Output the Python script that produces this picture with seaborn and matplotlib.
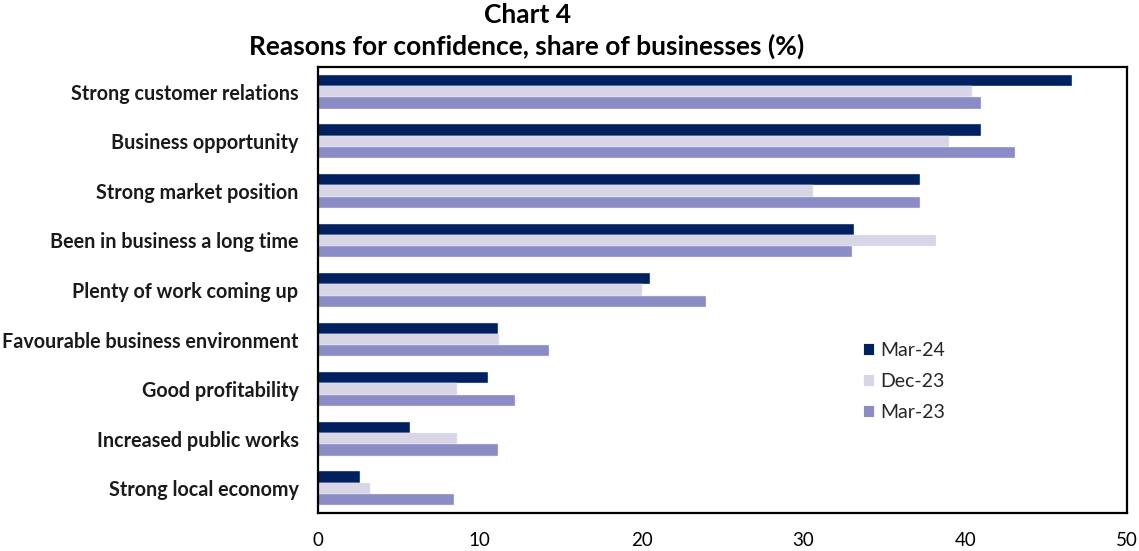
import numpy as np
import pandas as pd
import matplotlib
matplotlib.use("Agg")
import matplotlib.pyplot as plt
import seaborn as sns
from matplotlib.patches import Patch

# chart data
CATEGORIES = [
    "Strong customer relations",
    "Business opportunity",
    "Strong market position",
    "Been in business a long time",
    "Plenty of work coming up",
    "Favourable business environment",
    "Good profitability",
    "Increased public works",
    "Strong local economy",
]
PERIODS = ["Mar-24", "Dec-23", "Mar-23"]
MAR_24 = [46.6, 41.0, 37.2, 33.1, 20.5, 11.1, 10.5, 5.7, 2.6]
DEC_23 = [40.4, 39.0, 30.6, 38.2, 20.0, 11.2, 8.6, 8.6, 3.2]
MAR_23 = [41.0, 43.1, 37.2, 33.0, 24.0, 14.3, 12.2, 11.1, 8.4]
COLORS = ["#002060", "#D8D5E7", "#8B8BC6"]
XTICKS = [0, 10, 20, 30, 40, 50]

df = pd.DataFrame({"Reason": CATEGORIES, "Mar-24": MAR_24, "Dec-23": DEC_23, "Mar-23": MAR_23})
long = df.melt(id_vars="Reason", value_vars=PERIODS, var_name="Period", value_name="Share")

sns.set_theme(style="white")
plt.rcParams["font.family"] = ["Lato", "DejaVu Sans"]

fig = plt.figure(figsize=(11.39, 5.51), dpi=100)
ax = fig.add_axes([318 / 1139, 1 - 513 / 551, (1127 - 318) / 1139, (513 - 67) / 551])

sns.barplot(data=long, y="Reason", x="Share", hue="Period", order=CATEGORIES,
            hue_order=PERIODS, palette=COLORS, saturation=1, orient="h", width=0.68,
            edgecolor="#eeeef6", linewidth=0.3, ax=ax, legend=False)

ax.set_xlim(0, 50)
ax.set_ylim(len(CATEGORIES) - 0.5, -0.5)
ax.set_xticks(XTICKS)
ax.set_xticklabels([str(t) for t in XTICKS], fontsize=13.5)
ax.set_xlabel("")
ax.set_ylabel("")
ax.set_yticks(range(len(CATEGORIES)))
ax.set_yticklabels(CATEGORIES, fontsize=14.2, fontweight="bold", color="#1a1a1a")
ax.set_yticks(np.arange(-0.5, len(CATEGORIES)), minor=True)
ax.tick_params(axis="y", which="major", length=0, pad=14)
ax.tick_params(axis="y", which="minor", length=5, width=1.4, direction="out", color="black")
ax.tick_params(axis="x", which="major", length=5, width=1.4, direction="out", color="black",
               pad=9, labelcolor="black")

for s in ax.spines.values():
    s.set_visible(True)
    s.set_color("black")
    s.set_linewidth(1.6)

handles = [Patch(facecolor=c, edgecolor="white", linewidth=0.6) for c in COLORS]
fig.legend(handles, PERIODS, loc="upper left", bbox_to_anchor=(855 / 1139, 1 - 334 / 551),
           frameon=False, fontsize=14, handlelength=0.6, handleheight=0.6,
           handletextpad=0.3, labelspacing=0.72, borderaxespad=0)

fig.text(527 / 1139, 1 - 15 / 551, "Chart 4", ha="center", va="center",
         fontsize=19, fontweight="bold", color="black")
fig.text(527 / 1139, 1 - 46 / 551, "Reasons for confidence, share of businesses (%)",
         ha="center", va="center", fontsize=19, fontweight="bold", color="black")

fig.savefig("out.png", dpi=100)
